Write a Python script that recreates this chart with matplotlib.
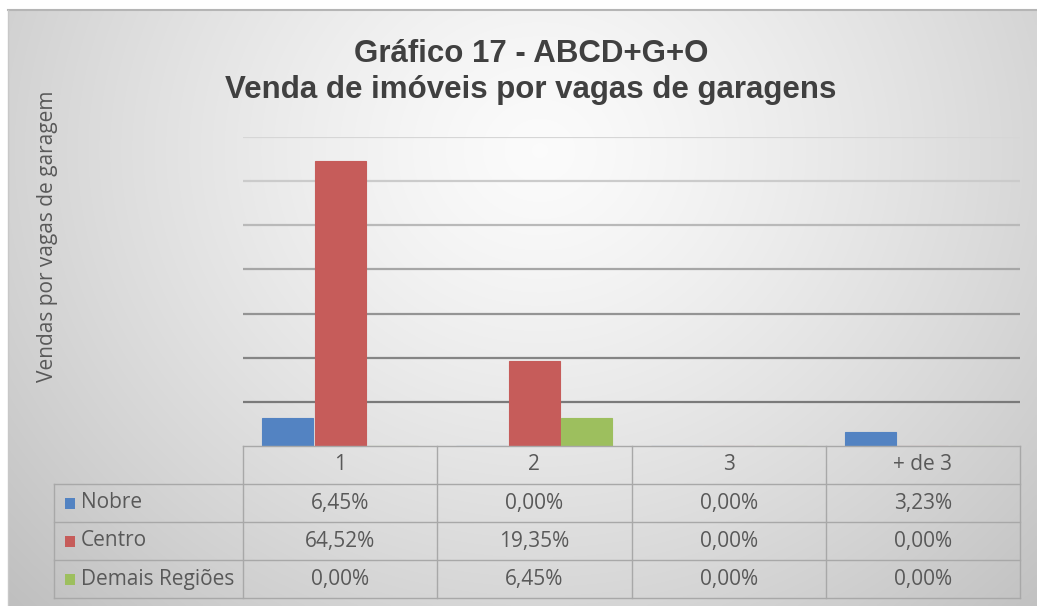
import numpy as np
import matplotlib
matplotlib.use("Agg")
import matplotlib.pyplot as plt
from matplotlib.patches import Rectangle

# ---- data ----
categories = ["1", "2", "3", "+ de 3"]
series_names = ["Nobre", "Centro", "Demais Regiões"]
nobre = [6.45, 0.00, 0.00, 3.23]
centro = [64.52, 19.35, 0.00, 0.00]
demais = [0.00, 6.45, 0.00, 0.00]
series_values = [nobre, centro, demais]
colors = ["#5383c2", "#c65c5a", "#9dbf5e"]
title_lines = ["Gráfico 17 - ABCD+G+O", "Venda de imóveis por vagas de garagens"]
ylabel = "Vendas por vagas de garagem"
y_max = 70
y_step = 10

W, H = 1037, 606
fig = plt.figure(figsize=(W / 100, H / 100), dpi=100)
fig.patch.set_facecolor("white")

# ---- background gradient (chart area) ----
bg = fig.add_axes([8 / W, 0, 1 - 8 / W, 1 - 10 / H])
bg.set_axis_off()
nx, ny = 400, 240
xs = np.linspace(8, W, nx)
ys = np.linspace(10, H, ny)
X, Y = np.meshgrid(xs, ys)
r = np.sqrt(((X - 540) / 620) ** 2 + ((Y - 150) / 560) ** 2)
v = 0.985 - 0.19 * np.clip(r, 0, 1.4) ** 1.3
img = np.dstack([v, v, v])
bg.imshow(img, extent=[0, 1, 0, 1], aspect="auto", origin="upper", interpolation="bilinear")
bg.set_xlim(0, 1)
bg.set_ylim(0, 1)
bg.plot([0, 1], [1, 1], color="#b5b5b5", lw=1.5, transform=bg.transAxes, clip_on=False)
bg.plot([0, 0], [0, 1], color="#c8c8c8", lw=1.0, transform=bg.transAxes, clip_on=False)

# ---- main axes ----
left, right = 243 / W, 1020 / W
bottom, top = 1 - 446 / H, 1 - 137 / H
ax = fig.add_axes([left, bottom, right - left, top - bottom])
ax.set_facecolor("none")
x = np.arange(len(categories))
width = 0.262
offsets = [-0.27, 0.0, 0.27]

ticks = np.arange(y_step, y_max + 1, y_step)
grid_cols = ["#7a7a7a", "#858585", "#949494", "#a6a6a6", "#b9b9b9", "#cbcbcb", "#d6d6d6"]
for t, c in zip(ticks, grid_cols):
    ax.axhline(t, color=c, lw=1.6, zorder=1)

for vals, off, col in zip(series_values, offsets, colors):
    ax.bar(x + off, vals, width=width, color=col, edgecolor=col, lw=0.8, zorder=2)

ax.set_xlim(-0.5, len(categories) - 0.5)
ax.set_ylim(0, y_max)
ax.set_xticks([])
ax.set_yticks([])
for s in ax.spines.values():
    s.set_visible(False)

# ---- data table ----
tab = fig.add_axes([left, 1 - 598 / H, right - left, (598 - 446) / H])
tab.set_axis_off()
tab.set_xlim(-0.5, len(categories) - 0.5)
tab.set_ylim(4, 0)
line_c = "#a8a8a8"
txt_c = "#595959"
fam = ["Open Sans", "DejaVu Sans"]
fs = 15
x_left = -0.5 - (243 - 54) / 194.25
# horizontal lines
tab.plot([-0.5, 3.5], [0, 0], color=line_c, lw=1.0, clip_on=False)
for yy in [1, 2, 3, 4]:
    tab.plot([x_left, 3.5], [yy, yy], color=line_c, lw=1.0, clip_on=False)
# vertical lines
for xx in np.arange(-0.5, len(categories)):
    tab.plot([xx, xx], [0, 4], color=line_c, lw=1.0, clip_on=False)
tab.plot([x_left, x_left], [1, 4], color=line_c, lw=1.0, clip_on=False)

for i, c in enumerate(categories):
    tab.text(i, 0.5, c, ha="center", va="center", fontsize=fs, color=txt_c, family=fam)
px = 1 / 194.25
for j, (name, vals, col) in enumerate(zip(series_names, series_values, colors)):
    yrow = j + 1.5
    tab.add_patch(Rectangle((x_left + 11 * px, yrow - 0.14), 10 * px, 0.29,
                            facecolor=col, edgecolor="none", clip_on=False))
    tab.text(x_left + 27 * px, yrow, name, ha="left", va="center", fontsize=fs,
             color=txt_c, family=fam, clip_on=False)
    for i, val in enumerate(vals):
        s = f"{val:.2f}".replace(".", ",") + "%"
        tab.text(i, yrow, s, ha="center", va="center", fontsize=fs, color=txt_c, family=fam)

# ---- title & y label ----
tfam = ["Liberation Sans", "DejaVu Sans"]
fig.text(531 / W, 1 - 62 / H, title_lines[0], ha="center", va="baseline", fontsize=22.5,
         fontweight="bold", color="#404040", family=tfam)
fig.text(531 / W, 1 - 98 / H, title_lines[1], ha="center", va="baseline", fontsize=22.5,
         fontweight="bold", color="#404040", family=tfam)
fig.text(48 / W, 1 - 236 / H, ylabel, ha="center", va="center", rotation=90,
         fontsize=15, color=txt_c, family=fam)

fig.savefig("out.png", dpi=100)
